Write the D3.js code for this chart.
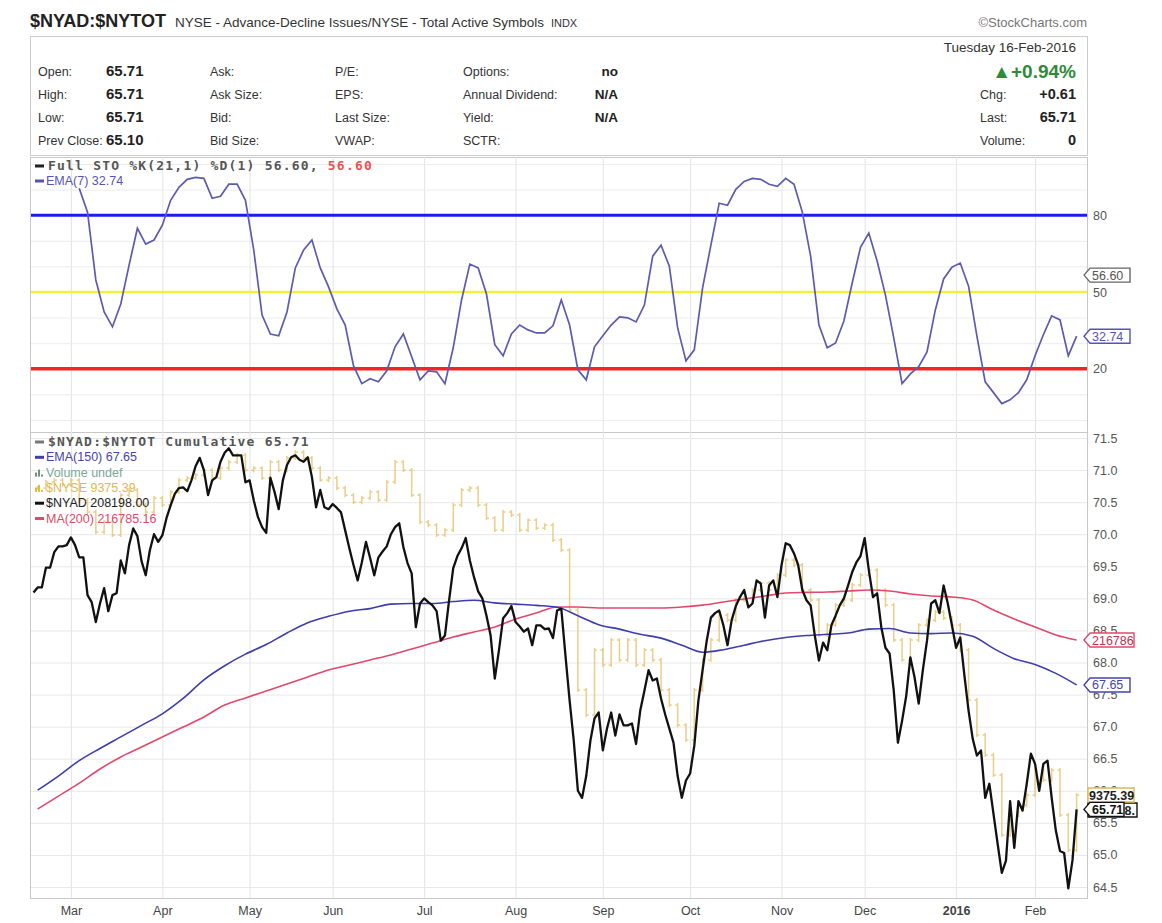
<!DOCTYPE html>
<html>
<head>
<meta charset="utf-8">
<script src="https://cdn.jsdelivr.net/npm/d3@7"></script>
<style>
  body { margin: 0; background: #fff; }
  svg text { font-family: "Liberation Sans", Arial, sans-serif; }
  svg text.mono { font-family: "DejaVu Sans Mono", "Liberation Mono", monospace; font-weight: bold; letter-spacing: 1.2px; }
</style>
</head>
<body>
<div id="chart"></div>
<script>
// trading calendar (one point per session)
var firstSession = '2015-02-17';
var lastSession = '2016-02-16';
var holidays = ['2015-04-03', '2015-05-25', '2015-07-03', '2015-09-07', '2015-11-26',
  '2015-12-25', '2016-01-01', '2016-01-18', '2016-02-15'];
var monthLabels = ['Mar', 'Apr', 'May', 'Jun', 'Jul', 'Aug', 'Sep', 'Oct', 'Nov', 'Dec', '2016', 'Feb'];

// $NYAD:$NYTOT cumulative, every session
var adCumulative = [
  69.09, 69.17, 69.17, 69.48, 69.48, 69.72, 69.81, 69.81, 69.83, 69.95,
  69.83, 69.64, 69.64, 69.05, 68.94, 68.63, 68.92, 69.16, 68.80, 69.05,
  69.08, 69.59, 69.39, 69.83, 70.09, 69.97, 69.58, 69.36, 69.75, 70.00,
  69.88, 69.98, 70.25, 70.45, 70.63, 70.72, 70.73, 70.67, 70.84, 71.06,
  71.19, 71.00, 70.61, 70.84, 70.89, 71.13, 71.27, 71.34, 71.23, 71.23,
  71.23, 70.81, 70.84, 70.53, 70.27, 70.11, 70.02, 70.88, 70.66, 70.39,
  70.84, 71.08, 71.20, 71.23, 71.16, 71.13, 71.20, 70.89, 70.42, 70.69,
  70.42, 70.39, 70.47, 70.41, 70.34, 70.06, 69.78, 69.52, 69.28, 69.56,
  69.88, 69.63, 69.36, 69.64, 69.73, 69.81, 70.00, 70.11, 70.17, 69.80,
  69.55, 69.39, 68.55, 68.92, 69.00, 68.94, 68.89, 68.80, 68.34, 68.42,
  68.97, 69.47, 69.66, 69.78, 69.94, 69.59, 69.33, 69.11, 69.00, 68.73,
  68.42, 67.75, 68.19, 68.69, 68.77, 68.88, 68.63, 68.56, 68.48, 68.53,
  68.27, 68.58, 68.58, 68.52, 68.53, 68.38, 68.81, 68.84, 68.11, 67.41,
  66.78, 66.00, 65.89, 66.23, 66.78, 67.13, 67.22, 66.63, 66.97, 67.22,
  66.86, 67.19, 67.02, 67.02, 67.05, 66.73, 67.25, 67.56, 67.88, 67.72,
  67.75, 67.44, 67.19, 66.97, 66.75, 66.23, 65.89, 66.16, 66.27, 66.70,
  67.41, 67.88, 68.34, 68.70, 68.77, 68.81, 68.58, 68.27, 68.66, 68.88,
  69.02, 69.13, 68.86, 68.92, 69.28, 69.23, 68.70, 69.20, 69.28, 69.02,
  69.52, 69.86, 69.83, 69.70, 69.52, 69.13, 68.97, 68.89, 68.42, 68.03,
  68.31, 68.19, 68.58, 68.73, 68.89, 69.00, 69.20, 69.41, 69.56, 69.66,
  69.94, 69.44, 69.02, 69.08, 68.55, 68.23, 68.14, 67.56, 66.75, 67.09,
  67.48, 68.08, 67.77, 67.36, 67.88, 68.34, 68.92, 68.97, 68.77, 69.20,
  68.92, 68.58, 68.23, 68.39, 67.80, 67.25, 66.81, 66.55, 66.63, 65.89,
  66.11, 65.64, 65.17, 64.72, 64.91, 65.84, 65.11, 65.84, 65.69, 66.11,
  66.58, 66.42, 66.00, 66.42, 66.47, 65.89, 65.38, 65.06, 65.03, 64.48,
  64.91, 65.71
];

// $NYSE closes, every second session starting at session 1
var nyseStart = 1, nyseStep = 2;
var nyseClose = [
  11046, 11078, 11089, 11062, 11089, 10980, 10915, 10806, 10861, 10790,
  11007, 11035, 10953, 10915, 10991, 10953, 11024, 11089, 11100, 11116,
  11143, 11100, 11154, 11187, 11225, 11143, 11154, 11100, 11187, 11143,
  11209, 11241, 11209, 11154, 11089, 11100, 11046, 11007, 10969, 10991,
  11024, 10980, 11078, 11187, 11143, 11007, 10861, 10844, 10790, 10817,
  10953, 11035, 11046, 10953, 10882, 10817, 10915, 10899, 10817, 10871,
  10828, 10844, 10763, 10708, 10382, 9947, 9811, 10164, 10083, 10219,
  10110, 10219, 10083, 10164, 10110, 9947, 9865, 9756, 9675, 9947,
  10110, 10219, 10355, 10327, 10436, 10447, 10491, 10529, 10491, 10572,
  10654, 10627, 10491, 10436, 10246, 10300, 10409, 10436, 10518, 10572,
  10599, 10491, 10409, 10219, 10110, 10219, 10300, 10327, 10371, 10338,
  10300, 10164, 9892, 9702, 9593, 9484, 9158, 9267, 9321, 9375,
  9511, 9457, 9511, 9267, 9076, 9375.39
];

// EMA(150) of the ratio and MA(200) of $NYAD, every fifth session from session 1
var maStart = 1, maStep = 5;
var ema150 = [
  66.01, 66.23, 66.47, 66.66, 66.84, 67.02, 67.20, 67.44, 67.73, 67.95,
  68.13, 68.28, 68.46, 68.62, 68.72, 68.80, 68.84, 68.91, 68.92, 68.92,
  68.95, 68.97, 68.93, 68.91, 68.89, 68.86, 68.73, 68.59, 68.52, 68.44,
  68.38, 68.27, 68.16, 68.20, 68.27, 68.34, 68.39, 68.42, 68.44, 68.46,
  68.52, 68.53, 68.46, 68.45, 68.46, 68.41, 68.22, 68.06, 67.97, 67.83,
  67.65
];
var nyadMa200 = [
  208250, 208900, 209560, 210270, 210880, 211380, 211890, 212390, 212900, 213500,
  213860, 214210, 214560, 214920, 215270, 215520, 215780, 216030, 216330, 216630,
  216940, 217190, 217440, 217850, 218150, 218450, 218450, 218400, 218400, 218400,
  218400, 218450, 218550, 218710, 218860, 219010, 219160, 219190, 219210, 219260,
  219310, 219260, 219110, 219010, 218960, 218810, 218300, 217850, 217440, 217040,
  216785.16
];
var ma200Tag = 216786;

// EMA(7) of Full STO, every second session from session 11
var stoStart = 11, stoStep = 2;
var stoEma7 = [
  90.5, 81.2, 54.7, 42.2, 36.4, 45.3, 60.5, 74.9, 68.7, 70.3,
  76.1, 85.8, 90.9, 94.0, 94.8, 94.4, 86.6, 87.4, 92.1, 92.1,
  85.8, 66.4, 41.0, 33.6, 32.9, 42.2, 59.4, 66.4, 70.3, 59.4,
  52.0, 43.4, 37.1, 21.2, 14.2, 16.1, 14.9, 19.2, 28.6, 33.6,
  24.7, 15.7, 19.2, 18.8, 14.2, 28.2, 46.9, 60.9, 59.4, 49.2,
  29.4, 25.1, 33.6, 37.1, 35.2, 34.0, 34.0, 36.8, 46.9, 37.1,
  19.6, 15.7, 28.6, 32.9, 37.1, 40.3, 39.9, 38.3, 44.9, 64.0,
  68.3, 60.1, 36.0, 23.1, 27.4, 51.6, 68.3, 84.7, 83.9, 90.1,
  93.2, 94.4, 94.0, 92.1, 91.3, 94.4, 92.1, 81.2, 64.0, 37.1,
  28.2, 30.1, 38.7, 53.5, 67.5, 73.0, 62.1, 48.8, 32.1, 14.2,
  18.0, 20.8, 26.6, 43.0, 55.1, 59.7, 61.3, 52.3, 32.9, 14.9,
  10.7, 6.4, 7.9, 10.7, 15.7, 25.1, 33.3, 40.7, 39.1, 25.1,
  32.74
];
var stoK = 56.60;

var priceTicks = [64.5, 65.0, 65.5, 66.0, 66.5, 67.0, 67.5, 68.0, 68.5, 69.0, 69.5, 70.0, 70.5, 71.0, 71.5];
var stoTicks = [20, 50, 80];
var stoGrid = [0, 10, 20, 30, 40, 50, 60, 70, 80, 90, 100];
// hidden overlay axes
var priceDomain = [64.5, 71.5];
var nyseDomain = [8875, 11318];
var nyadDomain = [204310, 226990];
var nyadLast = 208198.00;

var infoLabels = [
  ['Open:', 'High:', 'Low:', 'Prev Close:'],
  ['Ask:', 'Ask Size:', 'Bid:', 'Bid Size:'],
  ['P/E:', 'EPS:', 'Last Size:', 'VWAP:'],
  ['Options:', 'Annual Dividend:', 'Yield:', 'SCTR:']
];
var infoValues = [['65.71', '65.71', '65.71', '65.10'], [], [], ['no', 'N/A', 'N/A', '']];
var quoteLabels = ['Chg:', 'Last:', 'Volume:'];
var quoteValues = ['+0.61', '65.71', '0'];

// ---- layout
var width = 1162, height = 923;
var plotLeft = 31, plotRight = 1087;
var sto = { top: 157, bottom: 432 };
var px = { top: 432, bottom: 898 };

var fmtDay = d3.utcFormat('%Y-%m-%d');
var parseDay = d3.utcParse('%Y-%m-%d');
var holidaySet = new Set(holidays);
var sessions = d3.utcDays(parseDay(firstSession), d3.utcDay.offset(parseDay(lastSession), 1))
  .filter(d => d.getUTCDay() > 0 && d.getUTCDay() < 6 && !holidaySet.has(fmtDay(d)));

var monthStarts = [];
sessions.forEach((d, i) => {
  if (i > 0 && d.getUTCMonth() !== sessions[i - 1].getUTCMonth()) monthStarts.push(i);
});

var xScale = d3.scaleLinear()
  .domain([-0.6, sessions.length + 1.5])
  .range([plotLeft, plotRight]);
var stoY = d3.scaleLinear().domain([0, 100]).range([sto.bottom - 12, sto.top + 7]);
var priceY = d3.scaleLinear().domain(priceDomain).range([px.bottom - 11, px.top + 6]);
var nyseY = d3.scaleLinear().domain(nyseDomain).range(priceY.range());
var nyadY = d3.scaleLinear().domain(nyadDomain).range(priceY.range());

function series (values, start, step) {
  return values.map((v, k) => ({ i: start + k * step, v: v }));
}

var svg = d3.select('#chart')
  .append('svg')
    .attr('width', width)
    .attr('height', height);

// ---- header
svg.append('text')
  .attr('x', 30).attr('y', 27)
  .style('font-size', '18px').style('font-weight', 'bold').attr('fill', '#222')
  .text('$NYAD:$NYTOT');
var sub = svg.append('text')
  .attr('x', 175).attr('y', 27)
  .style('font-size', '13.5px').attr('fill', '#333')
  .text('NYSE - Advance-Decline Issues/NYSE - Total Active Symbols');
sub.append('tspan').attr('dx', 7).style('font-size', '11px').text('INDX');
svg.append('text')
  .attr('x', plotRight).attr('y', 27).attr('text-anchor', 'end')
  .style('font-size', '13px').attr('fill', '#777')
  .text('\u00a9StockCharts.com');

svg.append('rect')
  .attr('x', 30.5).attr('y', 36.5).attr('width', plotRight - 30).attr('height', 119)
  .attr('fill', '#fff').attr('stroke', '#ccc');

var colX = [38, 210, 335, 463];
var valX = [106, null, null, 618];
var rowY = [76, 99, 122, 145];
infoLabels.forEach((col, c) => {
  col.forEach((lab, r) => {
    svg.append('text')
      .attr('x', colX[c]).attr('y', rowY[r])
      .style('font-size', '12.5px').attr('fill', '#333')
      .text(lab);
    var val = infoValues[c][r];
    if (val) {
      svg.append('text')
        .attr('x', valX[c]).attr('y', rowY[r])
        .attr('text-anchor', c === 0 ? 'start' : 'end')
        .style('font-size', c === 0 ? '15px' : '13.5px').style('font-weight', 'bold')
        .attr('fill', '#222')
        .text(val);
    }
  });
});

var quoteRight = 1076;
svg.append('text')
  .attr('x', quoteRight).attr('y', 52).attr('text-anchor', 'end')
  .style('font-size', '13.5px').attr('fill', '#333')
  .text('Tuesday  16-Feb-2016');
svg.append('text')
  .attr('x', quoteRight).attr('y', 78).attr('text-anchor', 'end')
  .style('font-size', '19px').style('font-weight', 'bold').attr('fill', '#2f8a3a')
  .text('\u25b2+0.94%');
quoteLabels.forEach((lab, r) => {
  svg.append('text')
    .attr('x', 980).attr('y', rowY[r + 1])
    .style('font-size', '12.5px').attr('fill', '#333')
    .text(lab);
  svg.append('text')
    .attr('x', quoteRight).attr('y', rowY[r + 1]).attr('text-anchor', 'end')
    .style('font-size', '14.5px').style('font-weight', 'bold').attr('fill', '#222')
    .text(quoteValues[r]);
});

// ---- panel frames and grids
[sto, px].forEach(p => {
  svg.append('rect')
    .attr('x', plotLeft - 0.5).attr('y', p.top + 0.5)
    .attr('width', plotRight - plotLeft + 1).attr('height', p.bottom - p.top)
    .attr('fill', '#fff').attr('stroke', '#c8c8c8');
  svg.append('g')
    .attr('transform', `translate(0, ${p.bottom})`)
    .call(d3.axisBottom(xScale).tickValues(monthStarts).tickSize(-(p.bottom - p.top)).tickFormat(''))
    .call(g => g.select('.domain').remove())
    .call(g => g.selectAll('line').attr('stroke', '#e4e4e4'));
});

svg.append('g')
  .attr('transform', `translate(${plotRight}, 0)`)
  .call(d3.axisRight(stoY).tickValues(stoGrid).tickSize(-(plotRight - plotLeft)).tickFormat(''))
  .call(g => g.select('.domain').remove())
  .call(g => g.selectAll('line').attr('stroke', '#ececec'));
svg.append('g')
  .attr('transform', `translate(${plotRight}, 0)`)
  .call(d3.axisRight(priceY).tickValues(priceTicks).tickSize(-(plotRight - plotLeft)).tickFormat(''))
  .call(g => g.select('.domain').remove())
  .call(g => g.selectAll('line').attr('stroke', '#e8e8e8'));

// right axis labels
svg.append('g')
  .attr('transform', `translate(${plotRight}, 0)`)
  .call(d3.axisRight(stoY).tickValues(stoTicks).tickSize(0).tickPadding(6))
  .call(g => g.select('.domain').remove())
  .call(g => g.selectAll('text').style('font-size', '12.5px').attr('fill', '#555'));
svg.append('g')
  .attr('transform', `translate(${plotRight}, 0)`)
  .call(d3.axisRight(priceY).tickValues(priceTicks).tickSize(0).tickPadding(6).tickFormat(d3.format('.1f')))
  .call(g => g.select('.domain').remove())
  .call(g => g.selectAll('text').style('font-size', '12.5px').attr('fill', '#555'));

// month labels
svg.append('g')
  .attr('transform', `translate(0, ${px.bottom})`)
  .call(d3.axisBottom(xScale).tickValues(monthStarts).tickSize(0).tickPadding(8)
    .tickFormat((d, k) => monthLabels[k]))
  .call(g => g.select('.domain').remove())
  .call(g => g.selectAll('text')
    .style('font-size', '12.5px').attr('fill', '#444')
    .style('font-weight', (d, k) => monthLabels[k] === '2016' ? 'bold' : 'normal'));

// ---- stochastic panel
var stoLevels = [
  { v: 80, color: '#1c1cf0', w: 3 },
  { v: 50, color: '#f2f23c', w: 2.5 },
  { v: 20, color: '#f22424', w: 3.5 }
];
svg.selectAll('.level')
  .data(stoLevels)
  .enter()
    .append('line')
    .attr('class', 'level')
    .attr('x1', plotLeft).attr('x2', plotRight)
    .attr('y1', d => stoY(d.v)).attr('y2', d => stoY(d.v))
    .attr('stroke', d => d.color)
    .attr('stroke-width', d => d.w);

svg.append('path')
  .datum(series(stoEma7, stoStart, stoStep))
  .attr('fill', 'none')
  .attr('stroke', '#5b5bb0')
  .attr('stroke-width', 1.7)
  .attr('d', d3.line().x(d => xScale(d.i)).y(d => stoY(d.v)));

// ---- price panel
var nyseData = series(nyseClose, nyseStart, nyseStep);
var bars = svg.append('g').attr('stroke', '#e6c36c').attr('stroke-width', 1.5).attr('opacity', 0.8);
nyseData.forEach((d, k) => {
  var open = k > 0 ? nyseData[k - 1].v : d.v;
  var xPos = xScale(d.i);
  var hi = nyseY(Math.max(open, d.v)) - 2, lo = nyseY(Math.min(open, d.v)) + 2;
  bars.append('line').attr('x1', xPos).attr('x2', xPos).attr('y1', hi).attr('y2', lo);
  bars.append('line').attr('x1', xPos - 2.5).attr('x2', xPos).attr('y1', nyseY(open)).attr('y2', nyseY(open));
  bars.append('line').attr('x1', xPos).attr('x2', xPos + 2.5).attr('y1', nyseY(d.v)).attr('y2', nyseY(d.v));
});

svg.append('path')
  .datum(series(nyadMa200, maStart, maStep))
  .attr('fill', 'none')
  .attr('stroke', '#e0496a')
  .attr('stroke-width', 1.6)
  .attr('d', d3.line().x(d => xScale(d.i)).y(d => nyadY(d.v)).curve(d3.curveMonotoneX));

svg.append('path')
  .datum(series(ema150, maStart, maStep))
  .attr('fill', 'none')
  .attr('stroke', '#3d3dac')
  .attr('stroke-width', 1.6)
  .attr('d', d3.line().x(d => xScale(d.i)).y(d => priceY(d.v)).curve(d3.curveMonotoneX));

svg.append('path')
  .datum(series(adCumulative, 0, 1))
  .attr('fill', 'none')
  .attr('stroke', '#111')
  .attr('stroke-width', 2.3)
  .attr('stroke-linejoin', 'round')
  .attr('d', d3.line().x(d => xScale(d.i)).y(d => priceY(d.v)));

// ---- legends
function legend (items, top, step) {
  items.forEach((it, k) => {
    var y = top + k * step;
    var g = svg.append('g').attr('transform', `translate(35, ${y})`);
    if (it.icon === 'bars') {
      [[0, 4], [3, 7], [6, 2]].forEach(b => {
        g.append('rect').attr('x', b[0]).attr('y', -b[1]).attr('width', 2).attr('height', b[1]).attr('fill', it.color);
      });
    } else {
      g.append('line').attr('x1', 0).attr('x2', 9).attr('y1', -4).attr('y2', -4)
        .attr('stroke', it.color).attr('stroke-width', 3);
    }
    var t = g.append('text')
      .attr('x', it.mono ? 13 : 11).attr('y', 0)
      .attr('class', it.mono ? 'mono' : null)
      .style('font-size', it.mono ? '13px' : '12.5px');
    it.parts.forEach(p => t.append('tspan').attr('fill', p[1]).text(p[0]));
  });
}

legend([
  { color: '#222', mono: true, parts: [['Full STO %K(21,1) %D(1) 56.60, ', '#555'], ['56.60', '#f05050']] },
  { color: '#5555b0', parts: [['EMA(7) 32.74', '#5555b0']] }
], 170, 15);

legend([
  { color: '#777', mono: true, parts: [['$NYAD:$NYTOT Cumulative 65.71', '#555']] },
  { color: '#3d3dac', parts: [['EMA(150) 67.65', '#4444aa']] },
  { color: '#6f8f80', icon: 'bars', parts: [['Volume undef', '#7aa898']] },
  { color: '#e0b850', icon: 'bars', parts: [['$NYSE 9375.39', '#e0b850']] },
  { color: '#111', parts: [['$NYAD 208198.00', '#222']] },
  { color: '#e0496a', parts: [['MA(200) 216785.16', '#e0496a']] }
], 446, 15.3);

// ---- value tags on the right axis
function tag (y, text, stroke, color, opts) {
  opts = opts || {};
  var x0 = plotRight - 3;
  var w = opts.w || 46;
  var g = svg.append('g');
  var pts = opts.flat
    ? [[x0 + 4, y - 7], [x0 + w, y - 7], [x0 + w, y + 7], [x0 + 4, y + 7]]
    : [[x0, y], [x0 + 6, y - 7], [x0 + w, y - 7], [x0 + w, y + 7], [x0 + 6, y + 7]];
  g.append('path')
    .attr('d', 'M' + pts.join('L') + 'Z')
    .attr('fill', '#fff')
    .attr('stroke', stroke)
    .attr('stroke-width', 1.4);
  g.append('text')
    .attr('x', opts.right ? x0 + w - 2 : x0 + (opts.flat ? 5 : 8)).attr('y', y + 4.5)
    .attr('text-anchor', opts.right ? 'end' : 'start')
    .style('font-size', '12.5px')
    .style('font-weight', opts.bold ? 'bold' : 'normal')
    .attr('fill', color)
    .text(text);
}

var stoLast = stoEma7[stoEma7.length - 1];
tag(stoY(stoK), stoK.toFixed(2), '#666', '#555');
tag(stoY(stoLast), stoLast.toFixed(2), '#5555b0', '#5555b0');

var emaLast = ema150[ema150.length - 1];
var nyseLast = nyseClose[nyseClose.length - 1];
var adLast = adCumulative[adCumulative.length - 1];
tag(nyadY(nyadMa200[nyadMa200.length - 1]), String(ma200Tag), '#e0496a', '#c03050', { w: 50 });
tag(priceY(emaLast), emaLast.toFixed(2), '#4444aa', '#4444aa');
tag(nyadY(nyadLast), nyadLast.toFixed(0) + '.', '#111', '#222', { w: 53, flat: true, bold: true, right: true });
tag(nyseY(nyseLast), nyseLast.toFixed(2), '#e0b850', '#222', { flat: true, w: 50, bold: true });
tag(priceY(adLast), adLast.toFixed(2), '#111', '#111', { w: 40, bold: true });
</script>
</body>
</html>
